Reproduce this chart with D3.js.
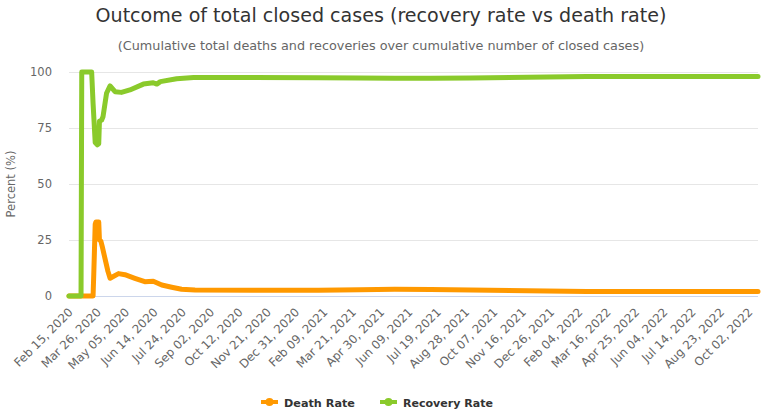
<!DOCTYPE html>
<html>
<head>
<meta charset="utf-8">
<script src="https://cdn.jsdelivr.net/npm/d3@7"></script>
<style>
  html, body { margin: 0; padding: 0; background: #fff; }
  svg { display: block; font-family: "DejaVu Sans", Verdana, sans-serif; }
</style>
</head>
<body>
<svg id="chart" width="762" height="414"></svg>
<script>
// ---- data ----
const titleText = "Outcome of total closed cases (recovery rate vs death rate)";
const subtitleText = "(Cumulative total deaths and recoveries over cumulative number of closed cases)";
const yTicks = [0, 25, 50, 75, 100];
const firstTickDate = "2020-02-15";
const tickStepDays = 40;
const tickCount = 25;
const startDate = "2020-02-15";
const endDate = "2022-10-15";

const deathDates = ["2020-02-15","2020-03-20","2020-03-21","2020-03-23","2020-03-24","2020-03-28","2020-03-29","2020-03-31","2020-04-02","2020-04-10","2020-04-13","2020-04-25","2020-05-04","2020-05-18","2020-06-01","2020-06-13","2020-06-25","2020-07-09","2020-07-23","2020-08-11","2020-11-01","2021-02-01","2021-04-01","2021-05-20","2021-07-10","2021-09-04","2021-12-21","2022-02-15","2022-10-15"];
const deathRate = [0,0,10,32,33,33,25,24.5,22,11,7.9,10,9.5,7.9,6.4,6.6,4.9,3.9,3.0,2.7,2.6,2.6,2.8,3.0,2.9,2.7,2.2,2.0,2.0];

const recoveryDates = ["2020-02-15","2020-03-03","2020-03-04","2020-03-18","2020-03-20","2020-03-23","2020-03-26","2020-03-28","2020-03-29","2020-04-01","2020-04-03","2020-04-08","2020-04-13","2020-04-20","2020-04-29","2020-05-11","2020-05-30","2020-06-13","2020-06-18","2020-06-23","2020-07-16","2020-08-09","2020-11-01","2021-02-01","2021-04-01","2021-05-20","2021-07-10","2021-09-04","2021-12-21","2022-02-15","2022-10-15"];
const recoveryRate = [0,0,100,100,86,68.5,67.5,68,78,78.5,80,90.5,93.8,91.2,90.9,92,94.6,95.2,94.6,95.7,97.0,97.5,97.5,97.4,97.3,97.2,97.2,97.3,97.8,98.0,98.0];

const seriesNames = ["Death Rate", "Recovery Rate"];
const seriesColors = ["#FF9900", "#8ACA2B"];

// ---- layout ----
const W = 762, H = 414;
const plot = { left: 69, right: 758, top: 72, bottom: 296 };
const parse = d3.timeParse("%Y-%m-%d");
const svg = d3.select("#chart");

const x = d3.scaleTime().domain([parse(startDate), parse(endDate)]).range([plot.left, plot.right]);
const y = d3.scaleLinear().domain([0, 100]).range([plot.bottom, plot.top]);

function fit(sel, target) {
  const base = parseFloat(sel.attr("font-size"));
  const w = sel.node().getComputedTextLength();
  sel.attr("font-size", (base * target / w).toFixed(2));
}

// title & subtitle
const t = svg.append("text").attr("x", W / 2).attr("y", 22).attr("text-anchor", "middle")
  .attr("font-size", 18).attr("fill", "#333333").text(titleText);
fit(t, 571);
const st = svg.append("text").attr("x", W / 2).attr("y", 50).attr("text-anchor", "middle")
  .attr("font-size", 11).attr("fill", "#666666").text(subtitleText);
fit(st, 527);

// gridlines
const yAxis = d3.axisLeft(y).tickValues(yTicks).tickSize(-(plot.right - plot.left)).tickPadding(17);
const gy = svg.append("g").attr("transform", `translate(${plot.left},0)`).call(yAxis);
gy.select(".domain").remove();
gy.selectAll(".tick line").attr("stroke", "#e6e6e6").attr("stroke-width", 1);
gy.selectAll(".tick").filter(d => d === 0).select("line").remove();
gy.selectAll(".tick text").attr("fill", "#666666").attr("font-size", 11.5)
  .attr("font-family", "DejaVu Sans, Verdana, sans-serif");

// x axis
const tickDates = d3.range(tickCount).map(i => d3.timeDay.offset(parse(firstTickDate), i * tickStepDays));
const fmt = d3.timeFormat("%b %d, %Y");
const xAxis = d3.axisBottom(x).tickValues(tickDates).tickFormat(fmt).tickSize(0);
const gx = svg.append("g").attr("transform", `translate(0,${plot.bottom})`).call(xAxis);
gx.select(".domain").attr("stroke", "#ccd6eb").attr("d", `M${plot.left},0.5H${plot.right}`);
gx.selectAll(".tick text")
  .attr("fill", "#666666").attr("font-size", 11.8)
  .attr("font-family", "DejaVu Sans, Verdana, sans-serif")
  .attr("text-anchor", "end")
  .attr("dy", null).attr("y", 0)
  .attr("transform", "translate(4,17) rotate(-45)");

// y axis title
svg.append("text").attr("transform", `translate(15,${(plot.top + plot.bottom) / 2}) rotate(-90)`)
  .attr("text-anchor", "middle").attr("font-size", 11.5).attr("fill", "#666666").text("Percent (%)");

// lines
const line = d3.line().x(d => x(d[0])).y(d => y(d[1]));
const deathPts = deathDates.map((d, i) => [parse(d), deathRate[i]]);
const recPts = recoveryDates.map((d, i) => [parse(d), recoveryRate[i]]);
[deathPts, recPts].forEach((pts, i) => {
  svg.append("path").attr("d", line(pts)).attr("fill", "none")
    .attr("stroke", seriesColors[i]).attr("stroke-width", 5)
    .attr("stroke-linejoin", "round").attr("stroke-linecap", "round");
});

// legend
const legendItems = [
  { sx: 261, tx: 284, w: 71 },
  { sx: 380, tx: 403, w: 90 }
];
legendItems.forEach((li, i) => {
  const g = svg.append("g");
  g.append("line").attr("x1", li.sx).attr("x2", li.sx + 17).attr("y1", 402).attr("y2", 402)
    .attr("stroke", seriesColors[i]).attr("stroke-width", 4);
  g.append("circle").attr("cx", li.sx + 8.5).attr("cy", 402).attr("r", 4).attr("fill", seriesColors[i]);
  const tx = g.append("text").attr("x", li.tx).attr("y", 406.5).attr("font-size", 12)
    .attr("font-weight", "bold").attr("fill", "#333333").text(seriesNames[i]);
  fit(tx, li.w);
});
</script>
</body>
</html>
